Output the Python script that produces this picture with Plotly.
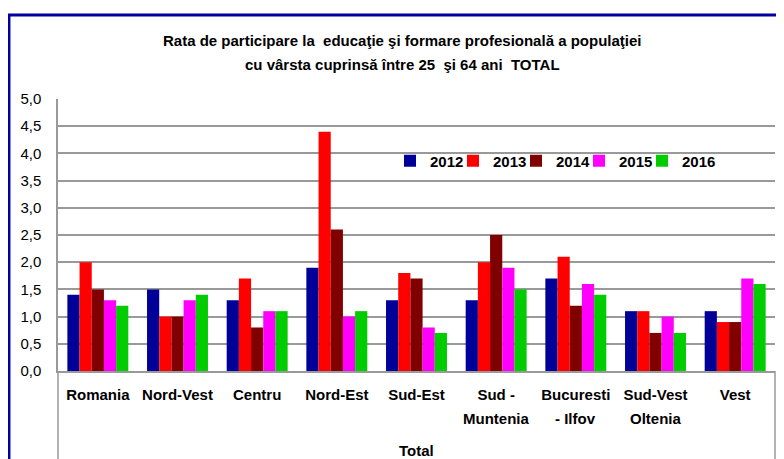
import plotly.graph_objects as go

categories = ["Romania", "Nord-Vest", "Centru", "Nord-Est", "Sud-Est",
              "Sud -<br>Muntenia", "Bucuresti<br>- Ilfov", "Sud-Vest<br>Oltenia", "Vest"]
years = ["2012", "2013", "2014", "2015", "2016"]
v2012 = [1.4, 1.5, 1.3, 1.9, 1.3, 1.3, 1.7, 1.1, 1.1]
v2013 = [2.0, 1.0, 1.7, 4.4, 1.8, 2.0, 2.1, 1.1, 0.9]
v2014 = [1.5, 1.0, 0.8, 2.6, 1.7, 2.5, 1.2, 0.7, 0.9]
v2015 = [1.3, 1.3, 1.1, 1.0, 0.8, 1.9, 1.6, 1.0, 1.7]
v2016 = [1.2, 1.4, 1.1, 1.1, 0.7, 1.5, 1.4, 0.7, 1.6]
series = [v2012, v2013, v2014, v2015, v2016]
colors = ["#000099", "#FF0000", "#800000", "#FF00FF", "#00CC00"]
y_ticks = [0, 0.5, 1.0, 1.5, 2.0, 2.5, 3.0, 3.5, 4.0, 4.5, 5.0]
title_lines = ["Rata de participare la  educaţie şi formare profesională a populaţiei",
               "cu vârsta cuprinsă între 25  şi 64 ani  TOTAL"]
group_label = "Total"

FONT = "Liberation Sans, Arial, sans-serif"

# page body has an 8px margin, so the figure is 8px smaller and shifted
W, H = 776, 451
L, R, T, B = 50, 9, 91, 88
pw, ph = W - L - R, H - T - B


def px_x(x):
    return (x - L) / pw


def px_y(y):
    return (H - B - y) / ph


fig = go.Figure()
legend_layout = {}
for i, (yr, vals, col) in enumerate(zip(years, series, colors)):
    lg = "legend" if i == 0 else "legend%d" % (i + 1)
    fig.add_trace(go.Bar(name=yr, x=categories, y=vals, legend=lg,
                         marker=dict(color=col, line=dict(width=0))))
    icon_x = 404 + 63 * i
    legend_layout[lg] = dict(
        orientation="h", x=px_x(icon_x - 22), xanchor="left",
        y=px_y(153), yanchor="middle",
        font=dict(family=FONT, size=15, color="black", weight="bold"),
        bgcolor="rgba(0,0,0,0)",
    )

first_lines = [c.split("<br>")[0] for c in categories]

fig.update_layout(
    width=W, height=H,
    margin=dict(l=L, r=R, t=T, b=B, pad=0),
    paper_bgcolor="white", plot_bgcolor="white",
    separators=", ",
    barmode="group", bargap=0.235, bargroupgap=0,
    font=dict(family=FONT, size=15, color="black"),
    showlegend=True,
    xaxis=dict(
        showgrid=False, showline=True, linecolor="#999999", linewidth=1.5,
        ticks="", tickmode="array", tickvals=categories, ticktext=first_lines,
        tickfont=dict(family=FONT, size=15, color="black", weight="bold"),
        ticklabelstandoff=9, fixedrange=True,
    ),
    yaxis=dict(
        range=[0, 5.0], tickvals=y_ticks, tickformat=".1f",
        showgrid=True, gridcolor="#999999", gridwidth=1.5,
        showline=True, linecolor="#999999", linewidth=1.5,
        zeroline=False, ticks="", ticklabelstandoff=12,
        tickfont=dict(family=FONT, size=15, color="black"),
    ),
    **legend_layout,
)

# second lines of the two-line category labels
for c in categories:
    parts = c.split("<br>")
    if len(parts) > 1:
        fig.add_annotation(text="<b>" + parts[1] + "</b>", x=c, xref="x", yref="paper",
                           y=px_y(410), showarrow=False, xanchor="center", yanchor="middle",
                           font=dict(family=FONT, size=15, color="black"))

# title lines
for i, line in enumerate(title_lines):
    fig.add_annotation(text="<b>" + line + "</b>", xref="paper", yref="paper",
                       x=px_x(394), y=px_y(32 + 24 * i), showarrow=False,
                       xanchor="center", yanchor="middle",
                       font=dict(family=FONT, size=15, color="black"))

# lower box of the category axis
for xp in (0, 1):
    fig.add_shape(type="line", xref="paper", yref="paper", x0=xp, x1=xp, y0=0, y1=px_y(H + 10),
                  line=dict(color="#999999", width=1.5))
# outer blue chart border (left and top edges visible)
fig.add_shape(type="line", xref="paper", yref="paper",
              x0=px_x(1.2), x1=px_x(1.2), y0=px_y(H + 10), y1=px_y(7),
              line=dict(color="#0000A0", width=2.5))
fig.add_shape(type="line", xref="paper", yref="paper",
              x0=px_x(0), x1=px_x(W + 10), y0=px_y(7), y1=px_y(7),
              line=dict(color="#0000A0", width=3))

fig.add_annotation(text="<b>" + group_label + "</b>", xref="paper", yref="paper",
                   x=0.5, y=px_y(442), showarrow=False, xanchor="center", yanchor="middle",
                   font=dict(family=FONT, size=15, color="black"))

fig.write_html("out.html")
